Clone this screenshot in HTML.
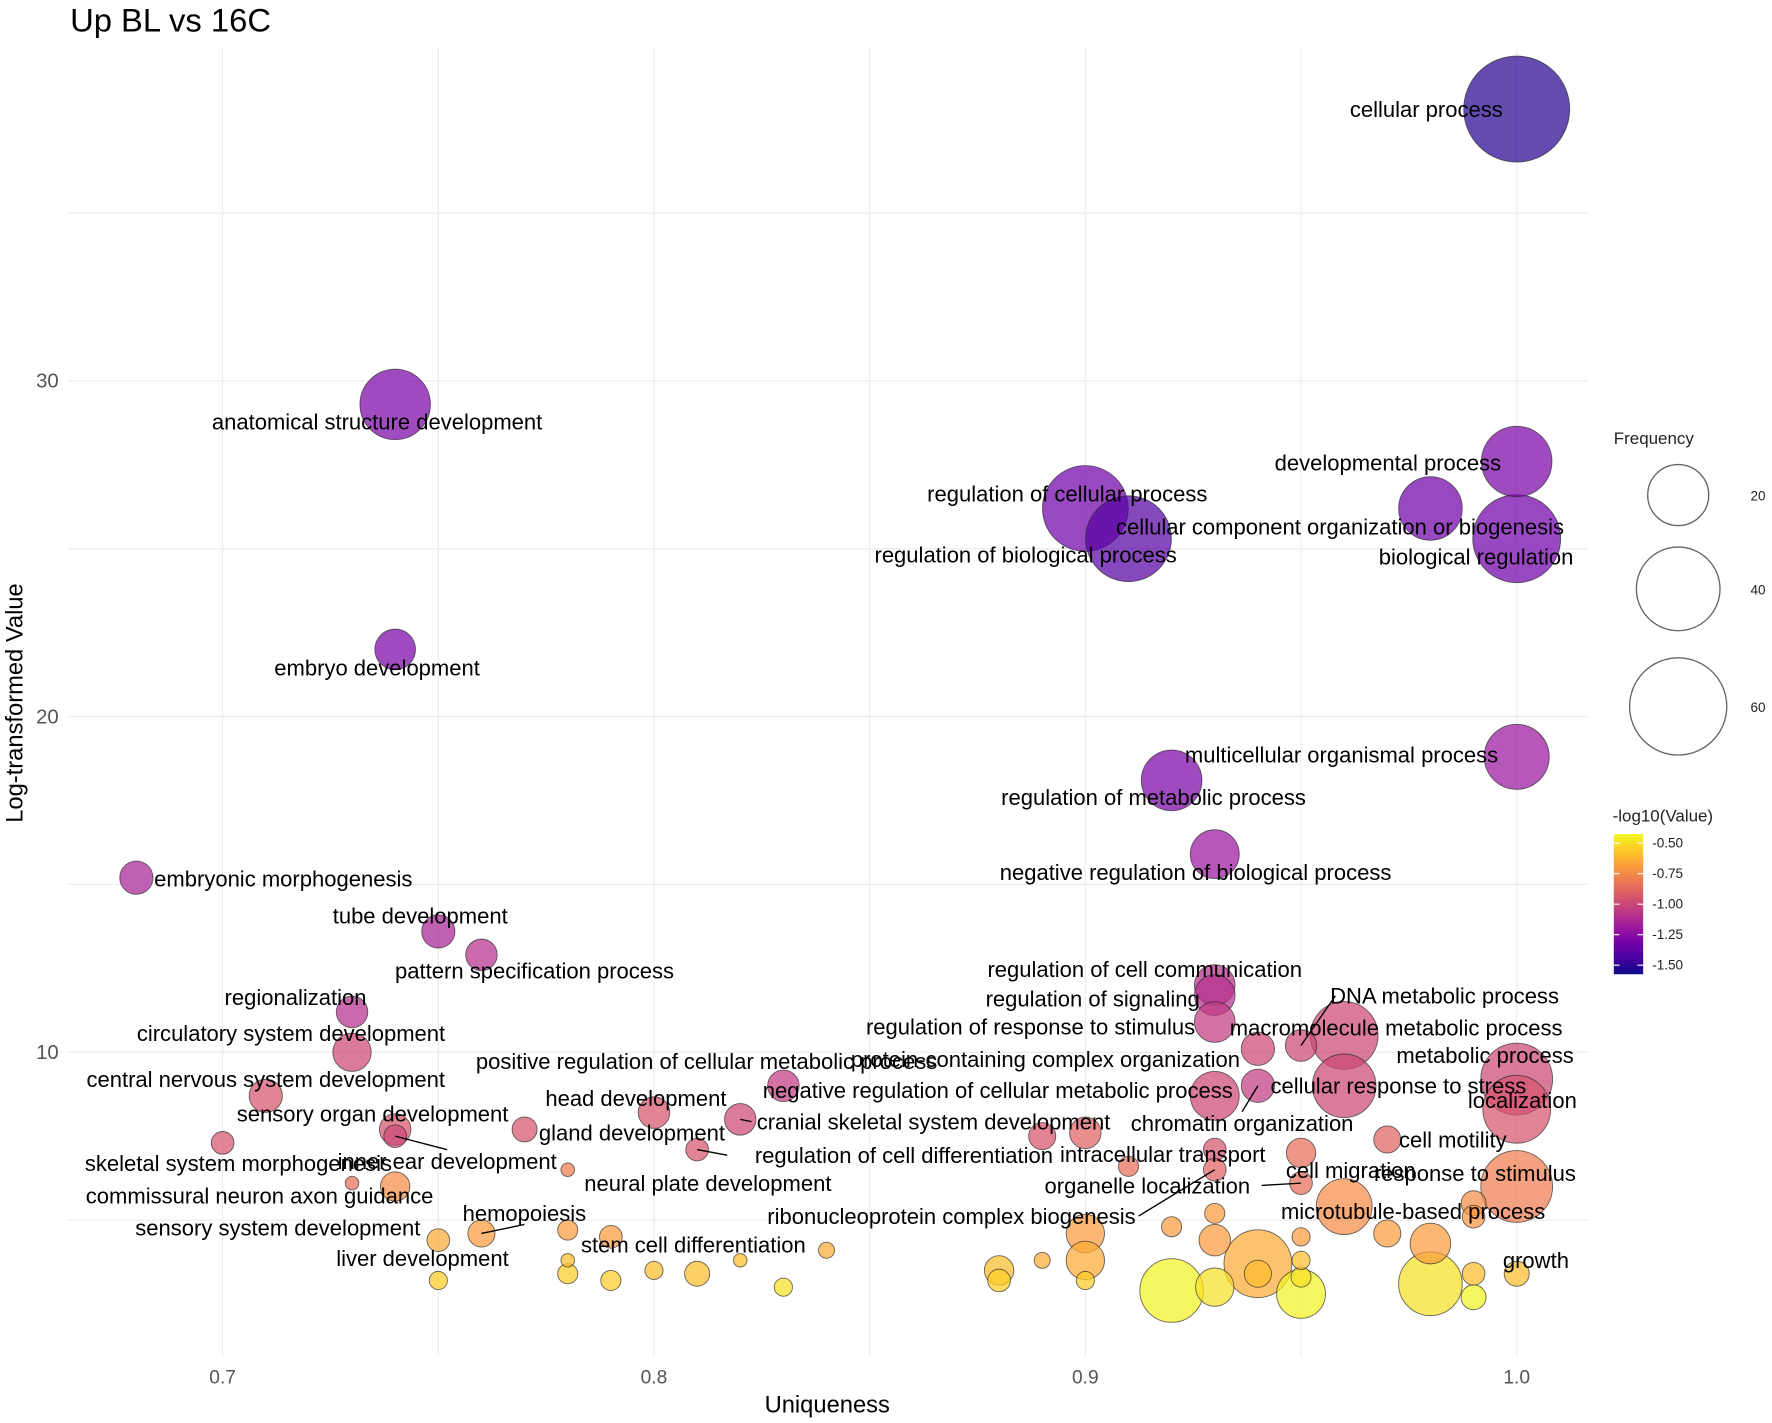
<!DOCTYPE html>
<html><head><meta charset="utf-8"><style>
html,body{margin:0;padding:0;background:#fff}
svg{display:block}
text{font-family:"Liberation Sans",Arial,sans-serif}
</style></head><body>
<svg id="chart" width="1772" height="1423" viewBox="0 0 1568 1259" xmlns="http://www.w3.org/2000/svg">
<defs>
<linearGradient id="plasma" x1="0" y1="1" x2="0" y2="0">
<stop offset="0" stop-color="#0d0887"/><stop offset="0.111" stop-color="#46039f"/><stop offset="0.222" stop-color="#7201a8"/><stop offset="0.333" stop-color="#9c179e"/><stop offset="0.444" stop-color="#bd3786"/><stop offset="0.556" stop-color="#d8576b"/><stop offset="0.667" stop-color="#ed7953"/><stop offset="0.778" stop-color="#fb9f3a"/><stop offset="0.889" stop-color="#fdca26"/><stop offset="1" stop-color="#f0f921"/>
</linearGradient>
</defs>
<text x="62" y="28" font-size="29" fill="#000">Up BL vs 16C</text>
<g id="grid"></g>
<g id="marks"></g>
<g id="labels"></g>
<g id="axes"></g>
<text x="732" y="1250" font-size="21" text-anchor="middle" fill="#000">Uniqueness</text>
<text transform="translate(20,622) rotate(-90)" font-size="21" text-anchor="middle" fill="#000">Log-transformed Value</text>
<g>
<text x="1428" y="393" font-size="15" fill="#222">Frequency</text>
<circle cx="1485" cy="438" r="27" fill="none" stroke="#666" stroke-width="1.2"/>
<text x="1549" y="443" font-size="12" fill="#222">20</text>
<circle cx="1485" cy="521" r="37" fill="none" stroke="#666" stroke-width="1.2"/>
<text x="1549" y="526" font-size="12" fill="#222">40</text>
<circle cx="1485" cy="625" r="43" fill="none" stroke="#666" stroke-width="1.2"/>
<text x="1549" y="630" font-size="12" fill="#222">60</text>
</g>
<g id="cbar">
<text x="1427" y="727" font-size="15" fill="#222">-log10(Value)</text>
<rect x="1428" y="738" width="26" height="124" fill="url(#plasma)"/>
</g>
</svg>
<script>
const xTicks=[0.7,0.8,0.9,1.0];
const yTicks=[10,20,30];
const cTicks=[-0.5,-0.75,-1.0,-1.25,-1.5];
const terms=["cellular process","anatomical structure development","developmental process","regulation of cellular process","cellular component organization or biogenesis","regulation of biological process","biological regulation","embryo development","multicellular organismal process","regulation of metabolic process","negative regulation of biological process","embryonic morphogenesis","tube development","pattern specification process","regionalization","circulatory system development","regulation of cell communication","regulation of signaling","regulation of response to stimulus","DNA metabolic process","macromolecule metabolic process","protein-containing complex organization","metabolic process","cellular response to stress","localization","negative regulation of cellular metabolic process","positive regulation of cellular metabolic process","chromatin organization","central nervous system development","head development","cranial skeletal system development","sensory organ development","gland development","inner ear development","skeletal system morphogenesis","regulation of cell differentiation","cell motility","intracellular transport","cell migration","organelle localization","response to stimulus","commissural neuron axon guidance","neural plate development","microtubule-based process","ribonucleoprotein complex biogenesis","hemopoiesis","sensory system development","stem cell differentiation","liver development","growth"];
const uniq=[1.00,0.74,1.00,0.90,0.98,0.91,1.00,0.74,1.00,0.92,0.93,0.68,0.75,0.76,0.73,0.73,0.93,0.93,0.93,0.95,0.96,0.94,1.00,0.96,1.00,0.93,0.83,0.94,0.71,0.80,0.82,0.74,0.77,0.74,0.70,0.81,0.97,0.93,0.95,0.95,1.00,0.74,0.78,0.96,0.93,0.76,0.75,0.79,0.75,1.00,
0.89,0.90,0.91,0.73,0.99,0.99,0.78,0.90,0.92,0.93,0.93,0.95,0.98,0.97,0.94,0.90,0.89,0.84,0.78,0.78,0.79,0.80,0.81,0.82,0.83,0.88,0.88,0.90,0.92,0.93,0.95,0.95,0.95,0.98,0.99,0.99,0.94];
const values=[38.1,29.3,27.6,26.2,26.2,25.3,25.3,22.0,18.8,18.1,15.9,15.2,13.6,12.9,11.2,10.0,12.0,11.7,10.9,10.2,10.5,10.1,9.2,9.0,8.3,8.7,9.0,9.0,8.7,8.2,8.0,7.7,7.7,7.5,7.3,7.1,7.4,7.1,7.0,6.1,6.0,6.0,6.5,5.4,6.5,4.6,4.4,4.5,3.2,3.4,
7.5,7.6,6.6,6.1,5.5,5.1,4.7,4.6,4.8,5.2,4.4,4.5,4.3,4.6,3.7,3.8,3.8,4.1,3.8,3.4,3.2,3.5,3.4,3.8,3.0,3.5,3.2,3.2,2.9,3.0,2.8,3.3,3.8,3.1,3.4,2.7,3.4];
const freq=[61,27,27,40,22,40,42,9,23,20,13,6,6,5.4,5.4,8,9,9,9,5.4,25,6,28,22,25,13,5.4,6,6,5.4,5.4,5.4,3.4,2.8,2.8,2.8,4,2.8,4.7,2.8,28,4.7,1,17,2.8,4,2.8,2.8,1.8,3.4,
4,5.4,2.2,1,3.4,2.8,2.2,8,2.2,2.2,5.4,1.8,9,4,25,8,1.4,1.4,1,2.2,2.2,1.8,3.4,1,1.8,4.7,2.8,1.8,22,8,13,2.2,1.8,22,2.8,3.4,4];
const logv=[-1.52,-1.30,-1.30,-1.33,-1.33,-1.40,-1.33,-1.30,-1.20,-1.30,-1.20,-1.15,-1.15,-1.10,-1.10,-1.00,-1.10,-1.10,-1.05,-1.00,-1.00,-1.00,-1.00,-1.00,-0.95,-1.00,-1.05,-1.05,-0.95,-0.95,-1.00,-0.95,-0.95,-1.00,-0.95,-0.95,-0.90,-0.95,-0.85,-0.85,-0.80,-0.75,-0.80,-0.75,-0.90,-0.70,-0.65,-0.70,-0.55,-0.60,
-0.95,-0.90,-0.85,-0.85,-0.75,-0.72,-0.70,-0.70,-0.70,-0.70,-0.70,-0.70,-0.70,-0.70,-0.65,-0.65,-0.65,-0.65,-0.60,-0.55,-0.55,-0.60,-0.60,-0.60,-0.50,-0.60,-0.55,-0.55,-0.45,-0.50,-0.45,-0.50,-0.60,-0.50,-0.60,-0.45,-0.60];
const labDx=[-80,-16,-114,-16,-80,-91,-36,-16,-155,-16,-17,130,-16,47,-50,-54,-62,-108,-163,127,46,-188,-28,48,5,-192,-68,-14,0,-16,171,-20,95,46,14,183,58,-46,44,-136,-37,-120,124,61,-233,38,-142,73,-14,17];
const labDy=[0,15,1,-13,16,14,16,16,-2,15,16,1,-14,14,-13,-17,-14,3,4,-44,-7,9,-21,0,-8,-5,-22,33,-15,-13,2,-14,3,22,18,5,0,4,15,2,-12,8,12,4,41,-18,-11,7,-20,-12];
const segTerms=["DNA metabolic process","organelle localization","ribonucleoprotein complex biogenesis","inner ear development","regulation of cell differentiation","chromatin organization","hemopoiesis","cranial skeletal system development"];

const NS="http://www.w3.org/2000/svg";
const X0=60,X1=1405,Y0=42,Y1=1200;
function sx(u){return 197+(u-0.7)*3817;}
function sy(v){return 1228-v*29.7;}
function sr(f){return 6*Math.sqrt(f);}
const stops=["#0d0887","#46039f","#7201a8","#9c179e","#bd3786","#d8576b","#ed7953","#fb9f3a","#fdca26","#f0f921"];
function hex(h){return [1,3,5].map(i=>parseInt(h.substr(i,2),16));}
function color(c){let t=(c-(-1.58))/((-0.43)-(-1.58));t=Math.max(0,Math.min(1,t));const p=t*(stops.length-1);const i=Math.min(stops.length-2,Math.floor(p));const f=p-i;const a=hex(stops[i]),b=hex(stops[i+1]);return "rgb("+a.map((v,k)=>Math.round(v+(b[k]-v)*f)).join(",")+")";}
function cy(c){return 746+(-0.5-c)*108;}
function mk(tag,attrs,parent){const e=document.createElementNS(NS,tag);for(const k in attrs)e.setAttribute(k,attrs[k]);parent.appendChild(e);return e;}

const grid=document.getElementById('grid');
[0.7,0.75,0.8,0.85,0.9,0.95,1.0].forEach(u=>{const l=mk('line',{x1:sx(u),x2:sx(u),y1:Y0,y2:Y1,stroke:"#ececec","stroke-width":1},grid);

});
[5,10,15,20,25,30,35].forEach(v=>{const l=mk('line',{x1:X0,x2:X1,y1:sy(v),y2:sy(v),stroke:"#ececec","stroke-width":1},grid);

});
const axes=document.getElementById('axes');
xTicks.forEach(u=>{const t=mk('text',{x:sx(u),y:1224,"font-size":17,"text-anchor":"middle",fill:"#555"},axes);t.textContent=u.toFixed(1);

});
yTicks.forEach(v=>{const t=mk('text',{x:52,y:sy(v)+6,"font-size":18,"text-anchor":"end",fill:"#555"},axes);t.textContent=v;

});

const marks=document.getElementById('marks');
const order=uniq.map((_,i)=>i).sort((a,b)=>freq[b]-freq[a]);
order.forEach(i=>{const c=mk('circle',{cx:sx(uniq[i]),cy:sy(values[i]),r:sr(freq[i]),fill:color(logv[i]),"fill-opacity":0.72,stroke:"#2a2a2a","stroke-opacity":0.7,"stroke-width":0.8},marks);

});

const labels=document.getElementById('labels');
terms.forEach((t,i)=>{const px=sx(uniq[i]),py=sy(values[i]);const lx=px+labDx[i],ly=py+labDy[i];
if(segTerms.indexOf(t)>=0){
  const hw=t.length*4.6;
  let ex=lx,ey=ly;
  if(Math.abs(labDx[i])>hw){ex=lx+(labDx[i]>0?-hw:hw);}
  else{ey=ly+(labDy[i]>0?-10:10);}
  const s=mk('line',{x1:px,y1:py,x2:ex,y2:ey,stroke:"#000","stroke-width":1.2},labels);
  
  }
const e=mk('text',{x:lx,y:ly+7,"font-size":19.5,"text-anchor":"middle",fill:"#000"},labels);e.textContent=t;

});

const cbar=document.getElementById('cbar');
cTicks.forEach(c=>{const y=cy(c);
const a=mk('line',{x1:1428,x2:1433,y1:y,y2:y,stroke:"#fff","stroke-width":1},cbar);


const b=mk('line',{x1:1449,x2:1454,y1:y,y2:y,stroke:"#fff","stroke-width":1},cbar);


const t=mk('text',{x:1462,y:y+4,"font-size":12,fill:"#222"},cbar);t.textContent=c.toFixed(2);

});
</script>
</body></html>
